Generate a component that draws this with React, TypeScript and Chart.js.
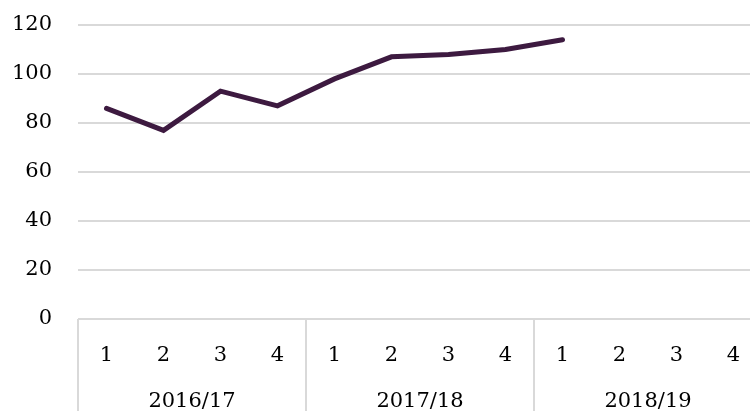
import React, { useEffect, useRef } from "react";
import { Chart, registerables } from "chart.js";

Chart.register(...registerables);

const quarters = ["1", "2", "3", "4", "1", "2", "3", "4", "1", "2", "3", "4"];
const years = ["2016/17", "2017/18", "2018/19"];
const values: (number | null)[] = [86, 77, 93, 87, 98, 107, 108, 110, 114, null, null, null];
const yTicks = [0, 20, 40, 60, 80, 100, 120];

const FONT = "Georgia, 'DejaVu Serif', serif";

const groupPlugin = {
  id: "groupPlugin",
  afterDraw(chart: any) {
    const ctx = chart.ctx;
    const x = chart.scales.x;
    const area = chart.chartArea;
    const per = quarters.length / years.length;
    const step = x.getPixelForValue(1) - x.getPixelForValue(0);
    ctx.save();
    ctx.strokeStyle = "#d9d9d9";
    ctx.lineWidth = 2;
    for (let g = 0; g <= years.length; g++) {
      const px = x.getPixelForValue(g * per) - step / 2;
      ctx.beginPath();
      ctx.moveTo(px, area.bottom);
      ctx.lineTo(px, chart.height);
      ctx.stroke();
    }
    ctx.fillStyle = "#000";
    ctx.font = `21px ${FONT}`;
    ctx.textAlign = "center";
    ctx.textBaseline = "middle";
    years.forEach((yr, g) => {
      const a = x.getPixelForValue(g * per) - step / 2;
      const b = x.getPixelForValue(g * per + per - 1) + step / 2;
      ctx.fillText(yr, (a + b) / 2, area.bottom + 83);
    });
    ctx.restore();
  },
};

export default function App() {
  const ref = useRef<HTMLCanvasElement>(null);
  useEffect(() => {
    if (!ref.current) return;
    const chart = new Chart(ref.current, {
      type: "line",
      data: {
        labels: quarters,
        datasets: [
          {
            data: values,
            borderColor: "#3d1a40",
            borderWidth: 5,
            borderCapStyle: "round",
            pointRadius: 0,
            tension: 0,
            fill: false,
          },
        ],
      },
      options: {
        animation: false,
        responsive: false,
        layout: { padding: { top: 25, left: 0, right: 0, bottom: 0 } },
        plugins: { legend: { display: false }, tooltip: { enabled: false } },
        scales: {
          x: {
            offset: true,
            grid: { display: false },
            border: { display: false },
            ticks: { color: "#000", font: { family: FONT, size: 21 }, padding: 16, maxRotation: 0, autoSkip: false },
            afterFit(scale: any) {
              scale.height = 92;
              scale.paddingLeft = 0;
              scale.paddingRight = 0;
            },
          },
          y: {
            min: 0,
            max: 120,
            afterBuildTicks(scale: any) {
              scale.ticks = yTicks.map((v) => ({ value: v }));
            },
            grid: { color: "#d9d9d9", lineWidth: 2, drawTicks: false },
            border: { display: false },
            ticks: { color: "#000", font: { family: FONT, size: 21 }, padding: 26 },
            afterFit(scale: any) {
              scale.width = 78;
              scale.paddingTop = 0;
              scale.paddingBottom = 0;
            },
          },
        },
      },
      plugins: [groupPlugin],
    });
    return () => chart.destroy();
  }, []);
  return (
    <div style={{ position: "fixed", left: 0, top: 0, width: 750, height: 411, overflow: "hidden", background: "#fff" }}>
      <canvas ref={ref} width={762} height={411} style={{ display: "block", width: 762, height: 411 }} />
    </div>
  );
}
